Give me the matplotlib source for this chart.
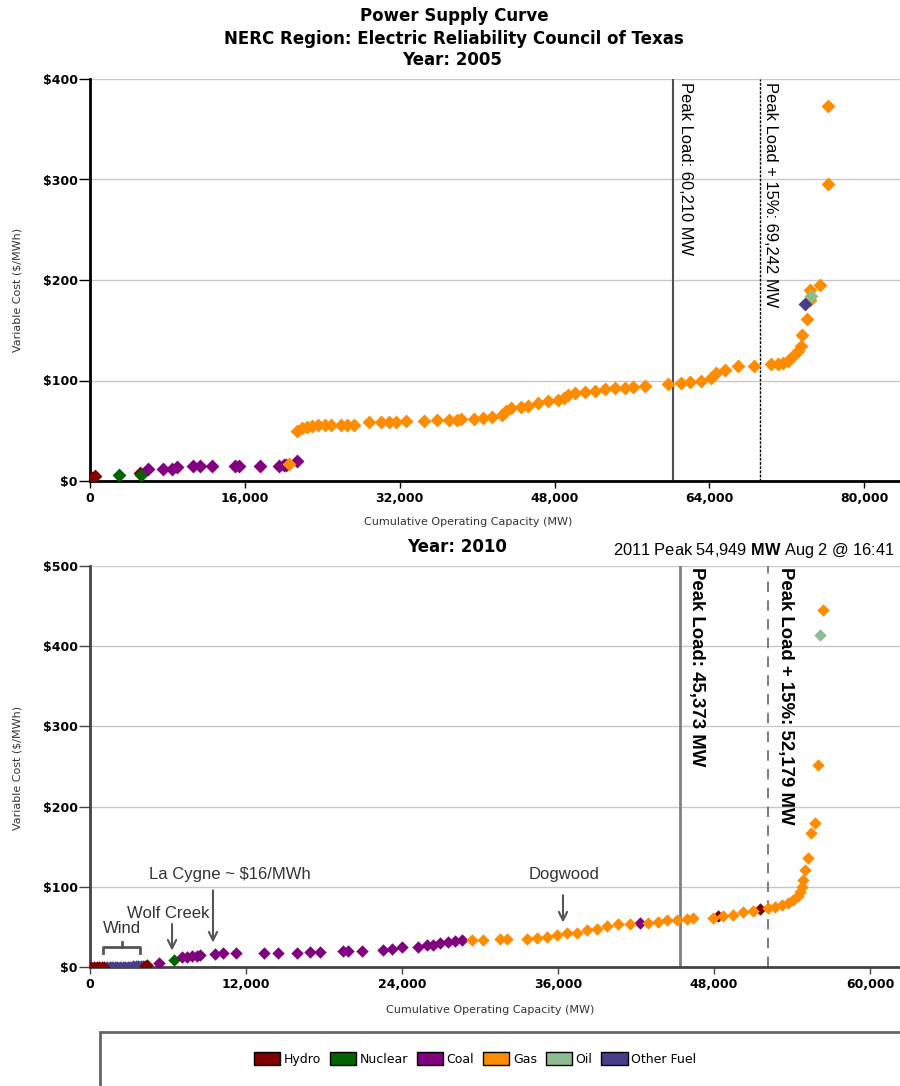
import matplotlib
matplotlib.use("Agg")
import matplotlib.pyplot as plt
from matplotlib.patches import Patch, Rectangle

plt.rcParams["font.family"] = ["DejaVu Sans"]
plt.rcParams["mathtext.fontset"] = "custom"
plt.rcParams["mathtext.rm"] = "Liberation Sans"
plt.rcParams["mathtext.bf"] = "Liberation Sans:bold"

# fuel colours
COLORS = {
    "Hydro": "#800000",
    "Nuclear": "#006400",
    "Coal": "#800080",
    "Gas": "#FF8C00",
    "Oil": "#8FBC8F",
    "Other Fuel": "#483D8B",
}

# ---- 2005 supply curve (MW, $/MWh) ----
hydro_05_x = [200, 500, 5160]
hydro_05_y = [3, 5, 8]
nuclear_05_x = [3030, 5270]
nuclear_05_y = [6, 6]
coal_05_x = [6010, 7560, 8430, 9010, 10670, 11360, 12560, 14970, 15420,
             17560, 19520, 20040, 20300, 21340]
coal_05_y = [12, 12, 12, 14, 15, 15, 15, 15, 15, 15, 15, 16, 16, 20]
gas_05_x = [20580, 21420, 21940, 22450, 22970, 23580, 24300, 24920, 25950,
            26570, 27290, 28840, 30070, 30900, 31620, 32650, 34500, 35840,
            37080, 37900, 38310, 39650, 40580, 41500, 42530, 43000, 43460,
            44490, 45310, 46340, 47370, 48400, 49000, 49430, 50150, 51180,
            52210, 53240, 54270, 55300, 56130, 57360, 59730, 61070, 62000,
            63130, 64160, 64680, 65600, 66940, 68660, 70370, 71060, 71580,
            72090, 72600, 73120, 73460, 73530, 74080, 74430, 74430, 75460,
            76210, 76210]
gas_05_y = [17, 50, 53, 54, 55, 56, 56, 56, 56, 56, 56, 59, 59, 59, 59, 60,
            60, 61, 61, 61, 62, 62, 63, 64, 66, 70, 73, 74, 75, 78, 80, 81,
            83, 86, 88, 89, 90, 92, 93, 93, 94, 95, 97, 98, 99, 100, 102,
            107, 110, 114, 114, 116, 116, 117, 119, 124, 129, 134, 145, 161,
            180, 190, 195, 296, 373]
oil_05_x = [74500]
oil_05_y = [184]
other_05_x = [73880]
other_05_y = [176]

# ---- 2010 supply curve ----
hydro_10_x = [100, 300, 500, 700, 900, 1100, 4200, 4400, 48300, 51540]
hydro_10_y = [0, 0, 0, 0, 0, 0, 1, 2, 63, 72]
other_10_x = [1300, 1500, 1700, 1900, 2100, 2300, 2500, 2700, 2900, 3100,
              3300, 3500, 3700, 3900, 4100]
other_10_y = [0, 0, 0, 0, 0, 0, 0, 0, 0, 0, 1, 1, 1, 1, 1]
nuclear_10_x = [6490]
nuclear_10_y = [9]
coal_10_x = [5300, 7050, 7440, 7820, 8210, 8460, 9620, 10260, 11200, 13380,
             14490, 15900, 16920, 17690, 19490, 19870, 20900, 22560, 23200,
             23980, 25250, 25900, 26410, 26920, 27560, 28080, 28590, 42310]
coal_10_y = [5, 12, 13, 14, 14, 15, 16, 17, 17, 17, 18, 18, 19, 19, 20, 20,
             20, 21, 23, 25, 25, 27, 28, 30, 31, 32, 34, 55]
gas_10_x = [29360, 30260, 31540, 32050, 33590, 34360, 35130, 35900, 36670,
            37440, 38210, 38980, 39740, 40640, 41540, 42950, 43720, 44360,
            45130, 45900, 46410, 47950, 48720, 49490, 50250, 51020, 52180,
            52690, 53210, 53720, 54100, 54490, 54620, 54740, 54870, 55000,
            55250, 55440, 55770, 56020, 56410]
gas_10_y = [34, 34, 35, 35, 35, 36, 38, 40, 42, 43, 46, 48, 51, 53, 54, 55,
            56, 58, 59, 60, 61, 61, 63, 65, 68, 70, 73, 75, 77, 80, 83, 88,
            94, 100, 108, 121, 136, 167, 179, 252, 445]
oil_10_x = [56150]
oil_10_y = [414]

peak_05 = 60210
peak15_05 = 69242
peak_10 = 45373
peak15_10 = 52179

x_ticks_05 = [0, 16000, 32000, 48000, 64000, 80000]
x_labels_05 = ["0", "16,000", "32,000", "48,000", "64,000", "80,000"]
y_ticks_05 = [0, 100, 200, 300, 400]
y_labels_05 = ["\\$0", "\\$100", "\\$200", "\\$300", "\\$400"]
x_ticks_10 = [0, 12000, 24000, 36000, 48000, 60000]
x_labels_10 = ["0", "12,000", "24,000", "36,000", "48,000", "60,000"]
y_ticks_10 = [0, 100, 200, 300, 400, 500]
y_labels_10 = ["\\$0", "\\$100", "\\$200", "\\$300", "\\$400", "\\$500"]

W, H = 900, 1086
fig = plt.figure(figsize=(W / 100, H / 100), dpi=100)


def px(x, y):
    return x / W, 1 - y / H


def style_axes(ax, xt, xl, yt, yl, spine_color):
    for s in ("top", "right"):
        ax.spines[s].set_visible(False)
    for s in ("left", "bottom"):
        ax.spines[s].set_linewidth(2)
        ax.spines[s].set_color(spine_color)
    ax.set_xticks(xt)
    ax.set_xticklabels(xl, fontsize=9, fontweight="bold")
    ax.set_yticks(yt)
    ax.set_yticklabels(yl, fontsize=9, fontweight="bold")
    ax.tick_params(axis="x", length=5, width=1, color=spine_color, pad=3)
    ax.tick_params(axis="y", length=8, width=1, color=spine_color, pad=1)
    ax.yaxis.grid(True, color="#c8c8c8", lw=1)
    ax.set_axisbelow(True)


def draw_points(ax, series, s):
    for name, xs, ys in series:
        ax.scatter(xs, ys, marker="D", s=s, color=COLORS[name], lw=0, zorder=3)


# ---------------- top chart ----------------
ax1 = fig.add_axes([90 / W, 1 - 481 / H, 810 / W, 402 / H])
style_axes(ax1, x_ticks_05, x_labels_05, y_ticks_05, y_labels_05, "black")
ax1.set_xlim(0, 83700)
ax1.set_ylim(0, 400)
draw_points(ax1, [("Hydro", hydro_05_x, hydro_05_y),
                  ("Nuclear", nuclear_05_x, nuclear_05_y),
                  ("Coal", coal_05_x, coal_05_y),
                  ("Gas", gas_05_x, gas_05_y),
                  ("Oil", oil_05_x, oil_05_y),
                  ("Other Fuel", other_05_x, other_05_y)], 50)
ax1.axvline(peak_05, color="#505050", lw=1.5, zorder=2)
ax1.axvline(peak15_05, color="black", lw=1, ls=(0, (2, 1)), zorder=2)
ax1.annotate(f"Peak Load: {peak_05:,} MW", xy=(peak_05, 1),
             xycoords=("data", "axes fraction"), xytext=(4, -2),
             textcoords="offset points", rotation=-90, ha="left", va="top",
             fontsize=11.9, family="Liberation Sans")
ax1.annotate(f"Peak Load + 15%: {peak15_05:,} MW", xy=(peak15_05, 1),
             xycoords=("data", "axes fraction"), xytext=(2, -2),
             textcoords="offset points", rotation=-90, ha="left", va="top",
             fontsize=11.9, family="Liberation Sans")

fig.text(*px(454, 16), "Power Supply Curve", ha="center", va="center",
         fontsize=12, fontweight="bold")
fig.text(*px(454, 39), "NERC Region: Electric Reliability Council of Texas",
         ha="center", va="center", fontsize=12, fontweight="bold")
fig.text(*px(452, 60), "Year: 2005", ha="center", va="center",
         fontsize=12, fontweight="bold")
fig.text(*px(468, 522), "Cumulative Operating Capacity (MW)", ha="center",
         va="center", fontsize=8, color="#333333")
fig.text(*px(18, 290), "Variable Cost ($/MWh)", ha="center", va="center",
         rotation=90, fontsize=8, color="#333333")

# ---------------- bottom chart ----------------
ax2 = fig.add_axes([90 / W, 1 - 967 / H, 810 / W, 401 / H])
style_axes(ax2, x_ticks_10, x_labels_10, y_ticks_10, y_labels_10, "#444444")
ax2.set_xlim(0, 62300)
ax2.set_ylim(0, 500)
draw_points(ax2, [("Other Fuel", other_10_x, other_10_y),
                  ("Hydro", hydro_10_x, hydro_10_y),
                  ("Nuclear", nuclear_10_x, nuclear_10_y),
                  ("Coal", coal_10_x, coal_10_y),
                  ("Gas", gas_10_x, gas_10_y),
                  ("Oil", oil_10_x, oil_10_y)], 40)
ax2.axvline(peak_10, color="#808080", lw=2, zorder=2)
ax2.axvline(peak15_10, color="#808080", lw=1.5, ls=(0, (5, 4)), zorder=2)
ax2.annotate(f"Peak Load: {peak_10:,} MW", xy=(peak_10, 1),
             xycoords=("data", "axes fraction"), xytext=(6, -1),
             textcoords="offset points", rotation=-90, ha="left", va="top",
             fontsize=13.4, fontweight="bold", family="Liberation Sans")
ax2.annotate(f"Peak Load + 15%: {peak15_10:,} MW", xy=(peak15_10, 1),
             xycoords=("data", "axes fraction"), xytext=(6, -1),
             textcoords="offset points", rotation=-90, ha="left", va="top",
             fontsize=13.4, fontweight="bold", family="Liberation Sans")

ann = dict(fontsize=12, family="Liberation Sans", color="#333333",
           ha="center", va="center")
arw = dict(arrowstyle="->", color="#555555", lw=1.5, mutation_scale=15)
ax2.text(10770, 115, "La Cygne ~ \\$16/MWh", **ann)
ax2.annotate("", xy=(9460, 27), xytext=(9460, 99), arrowprops=arw)
ax2.text(6000, 67, "Wolf Creek", **ann)
ax2.annotate("", xy=(6310, 17), xytext=(6310, 57), arrowprops=arw)
ax2.text(2460, 48, "Wind", **ann)
ax2.plot([1000, 1000, 3850, 3850], [17, 25, 25, 17], color="#555555", lw=2)
ax2.plot([2460, 2460], [25, 31], color="#555555", lw=2)
ax2.text(36460, 115, "Dogwood", **ann)
ax2.annotate("", xy=(36380, 52), xytext=(36380, 93), arrowprops=arw)

fig.text(*px(457, 547), "Year: 2010", ha="center", va="center",
         fontsize=12, fontweight="bold")
fig.text(*px(895, 551), r"2011 Peak 54,949 $\mathbf{MW}$ Aug 2 @ 16:41",
         ha="right", va="center", fontsize=11.8, family="Liberation Sans")
fig.text(*px(490, 1010), "Cumulative Operating Capacity (MW)", ha="center",
         va="center", fontsize=8, color="#333333")
fig.text(*px(18, 768), "Variable Cost ($/MWh)", ha="center", va="center",
         rotation=90, fontsize=8, color="#333333")

# ---------------- legend ----------------
fig.patches.append(Rectangle(px(100, 1092), 810 / W, 60 / H,
                             transform=fig.transFigure, fill=False,
                             edgecolor="#666666", lw=2))
handles = [Patch(facecolor=c, edgecolor="black", label=n)
           for n, c in COLORS.items()]
fig.legend(handles=handles, loc="center", bbox_to_anchor=px(475, 1059),
           ncol=6, frameon=False, fontsize=9, handlelength=2.1,
           handleheight=1.2, columnspacing=0.7, handletextpad=0.3)

fig.savefig("out.png", dpi=100)
